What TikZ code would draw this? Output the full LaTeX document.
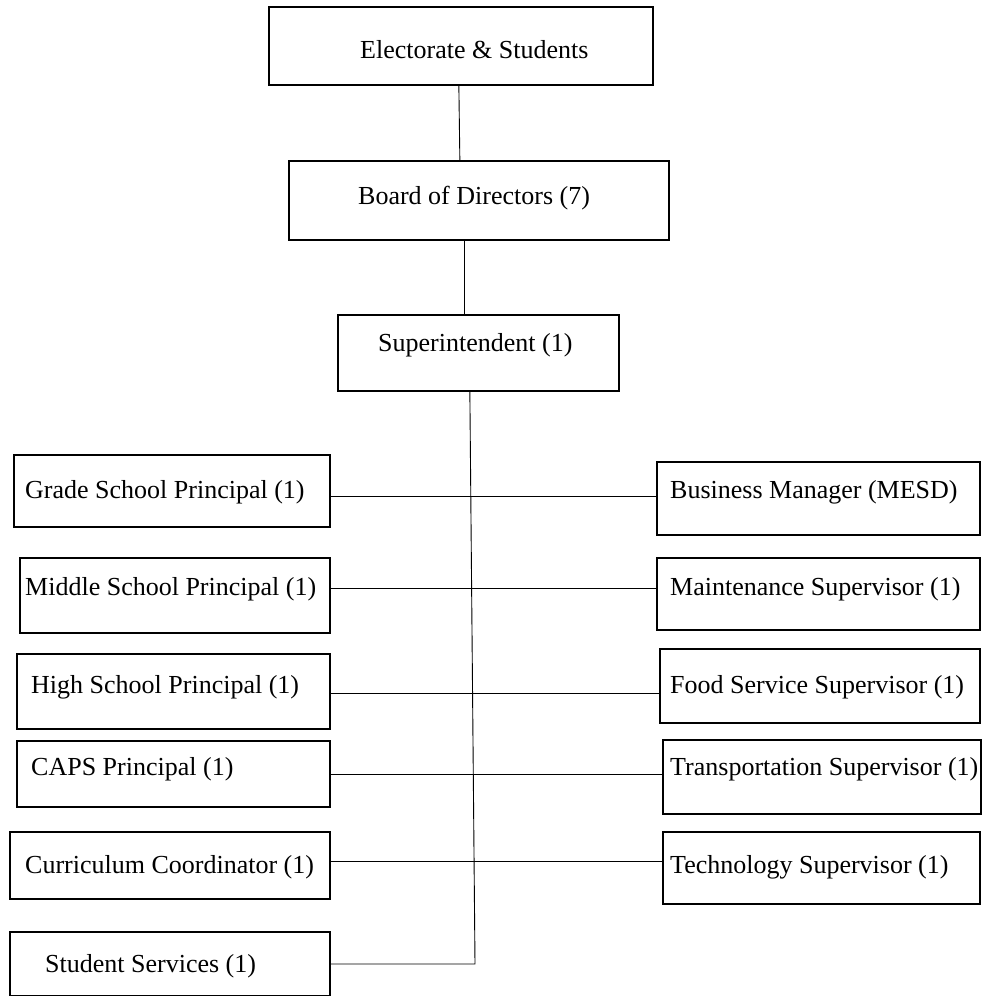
\documentclass[tikz,border=0pt]{standalone}
\usepackage{fontspec}
\setmainfont{Liberation Serif}
\usepackage{tikz}
\tikzset{%
	block/.style   = {draw, rectangle, line width=1.7pt, anchor=north west, inner sep=0pt}, % Box
	boxtext/.style = {anchor=base west, inner sep=0pt, font=\fontsize{26}{30}\selectfont}, % Box text
	link/.style    = {line width=0.9pt}, % Connector
}

\begin{document}
\begin{tikzpicture}[x=1pt, y=-1pt]
	\useasboundingbox (0,0) rectangle (984,996);
	% top of the chart
	\node[block, minimum width=384pt, minimum height=78pt] (elect) at (268,6) {};
	\node[boxtext] (elect-t) at (360,58) {Electorate \& Students};
	\node[block, minimum width=380pt, minimum height=79pt] (board) at (288,160) {};
	\node[boxtext] (board-t) at (358,204) {Board of Directors (7)};
	\node[block, minimum width=281pt, minimum height=76pt] (super) at (337,314) {};
	\node[boxtext] (super-t) at (378,351) {Superintendent (1)};
	
	% left column
	\node[block, minimum width=316pt, minimum height=72pt] (grade) at (13,454) {};
	\node[boxtext] (grade-t) at (25,498) {Grade School Principal (1)};
	\node[block, minimum width=310pt, minimum height=75pt] (middle) at (19,557) {};
	\node[boxtext] (middle-t) at (25,595) {Middle School Principal (1)};
	\node[block, minimum width=313pt, minimum height=75pt] (high) at (16,653) {};
	\node[boxtext] (high-t) at (31,693) {High School Principal (1)};
	\node[block, minimum width=313pt, minimum height=66pt] (caps) at (16,740) {};
	\node[boxtext] (caps-t) at (31,775) {CAPS Principal (1)};
	\node[block, minimum width=320pt, minimum height=67pt] (curr) at (9,831) {};
	\node[boxtext] (curr-t) at (25,873) {Curriculum Coordinator (1)};
	\node[block, minimum width=320pt, minimum height=64pt] (student) at (9,931) {};
	\node[boxtext] (student-t) at (45,972) {Student Services (1)};
	
	% right column
	\node[block, minimum width=323pt, minimum height=73pt] (business) at (656,461) {};
	\node[boxtext] (business-t) at (670,498) {Business Manager (MESD)};
	\node[block, minimum width=323pt, minimum height=72pt] (maint) at (656,557) {};
	\node[boxtext] (maint-t) at (670,595) {Maintenance Supervisor (1)};
	\node[block, minimum width=320pt, minimum height=74pt] (food) at (659,648) {};
	\node[boxtext] (food-t) at (670,693) {Food Service Supervisor (1)};
	\node[block, minimum width=318pt, minimum height=74pt] (transp) at (662,739) {};
	\node[boxtext] (transp-t) at (670,775) {Transportation Supervisor (1)};
	\node[block, minimum width=317pt, minimum height=72pt] (tech) at (662,831) {};
	\node[boxtext] (tech-t) at (670,873) {Technology Supervisor (1)};
	
	% connectors
	\draw[link] ([xshift=-2pt]elect.south) -- ([xshift=-19pt]board.north);
	\draw[link] ([xshift=-14pt]board.south) -- ([xshift=-13.5pt]super.north);
	\coordinate (spine) at ([xshift=-8.5pt]super.south);
	\coordinate (spine-end) at (475,964);
	\draw[link] (spine) -- (spine-end) -- (student.east |- spine-end);
	\foreach \l/\r/\y in {grade/business/496, middle/maint/588, high/food/693, caps/transp/774, curr/tech/861}
		\draw[link] (\l.east |- 0,\y) -- (\r.west |- 0,\y);
\end{tikzpicture}
\end{document}
